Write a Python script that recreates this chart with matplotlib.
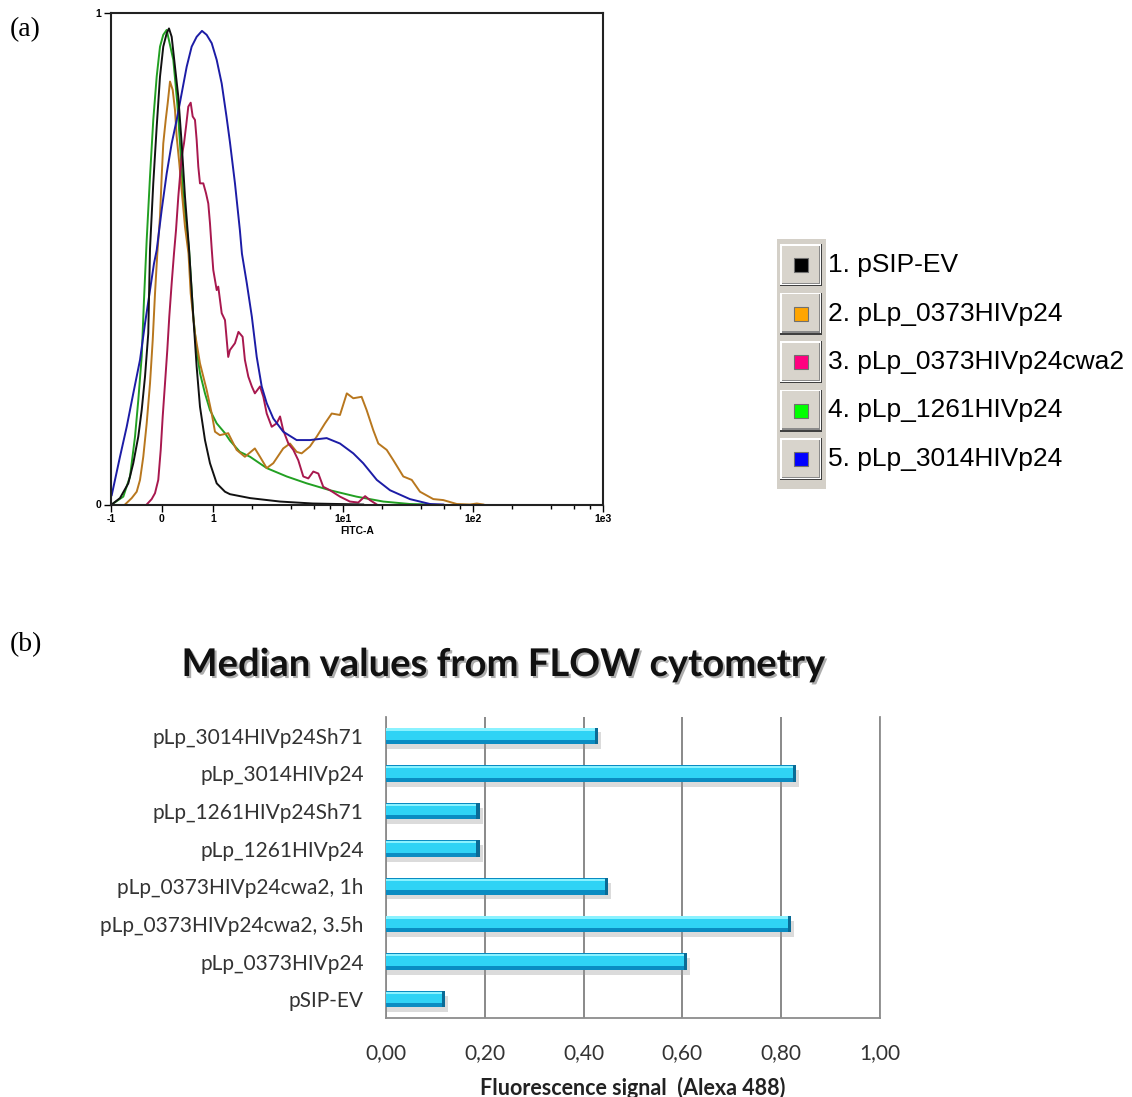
import numpy as np
import matplotlib
matplotlib.use("Agg")
import matplotlib.pyplot as plt
from matplotlib.patches import Rectangle
from matplotlib.ticker import FixedLocator, NullFormatter
import matplotlib.patheffects as pe

plt.rcParams['font.family'] = ['Liberation Sans', 'DejaVu Sans']

# ---- (a) flow cytometry histograms: FITC-A value vs normalised count ----
ev_x = [-0.986, -0.824, -0.661, -0.563, -0.465, -0.398, -0.333, -0.269, -0.235, -0.171,
        -0.104, -0.039, 0.025, 0.092, 0.137, 0.190, 0.255, 0.320, 0.386, 0.451, 0.53,
        0.614, 0.680, 0.745, 0.843, 0.941, 1.068, 1.237, 1.35, 1.93, 3.28, 5.88, 14.3]
ev_y = [0.0, 0.013, 0.043, 0.084, 0.138, 0.192, 0.260, 0.348, 0.52, 0.653,
        0.768, 0.870, 0.931, 0.958, 0.968, 0.951, 0.890, 0.829, 0.734, 0.626, 0.52,
        0.382, 0.280, 0.199, 0.131, 0.084, 0.043, 0.026, 0.021, 0.013, 0.006, 0.002, 0.0]

p373_x = [-0.725, -0.594, -0.496, -0.431, -0.367, -0.300, -0.235, -0.182, -0.137, -0.092,
          -0.039, -0.006, 0.025, 0.073, 0.112, 0.157, 0.210, 0.255, 0.288, 0.339, 0.386,
          0.451, 0.52, 0.563, 0.647, 0.745, 0.876, 0.975, 1.036, 1.13, 1.31, 1.35, 1.52,
          1.76, 2.10, 2.30, 2.59, 2.91, 3.47, 3.91, 4.40, 4.81, 5.57, 6.28, 7.27, 8.19,
          9.48, 10.7, 12.0, 13.9, 15.2, 17.1, 18.7, 21.7, 24.4, 29.1, 33.8, 39.1, 49.5,
          59.1, 75.0, 94.8, 107, 120]
p373_y = [0.0, 0.013, 0.026, 0.050, 0.097, 0.165, 0.246, 0.334, 0.429, 0.51,
          0.585, 0.667, 0.734, 0.782, 0.816, 0.860, 0.843, 0.802, 0.748, 0.694, 0.639,
          0.565, 0.51, 0.429, 0.348, 0.287, 0.233, 0.185, 0.148, 0.141, 0.145, 0.138, 0.111,
          0.097, 0.114, 0.097, 0.074, 0.084, 0.114, 0.124, 0.107, 0.104, 0.118, 0.138, 0.165, 0.185,
          0.182, 0.226, 0.216, 0.219, 0.192, 0.151, 0.124, 0.111, 0.090, 0.057, 0.050, 0.026, 0.011,
          0.009, 0.001, 0.0, 0.002, 0.0]

cwa2_x = [-0.300, -0.202, -0.137, -0.073, -0.025, 0.014, 0.059, 0.104, 0.143, 0.190,
          0.235, 0.275, 0.320, 0.353, 0.386, 0.431, 0.471, 0.516, 0.563, 0.602, 0.647,
          0.680, 0.712, 0.745, 0.810, 0.863, 0.908, 0.941, 0.975, 1.005, 1.068, 1.098,
          1.167, 1.237, 1.31, 1.35, 1.476, 1.57, 1.69, 1.76, 1.87, 1.99, 2.10, 2.30, 2.44,
          2.59, 2.83, 3.09, 3.28, 3.47, 3.80, 4.15, 4.53, 4.95, 5.41, 5.91, 6.46, 7.05,
          7.94, 9.48, 11.3, 13.1, 14.8, 16.1, 18.2]
cwa2_y = [0.0, 0.011, 0.023, 0.050, 0.111, 0.179, 0.246, 0.314, 0.382, 0.450,
          0.51, 0.558, 0.626, 0.667, 0.707, 0.734, 0.768, 0.809, 0.817, 0.789, 0.782,
          0.741, 0.687, 0.653, 0.653, 0.633, 0.612, 0.572, 0.52, 0.477, 0.436, 0.443,
          0.389, 0.375, 0.300, 0.314, 0.328, 0.351, 0.341, 0.294, 0.260, 0.240, 0.226, 0.240, 0.219,
          0.185, 0.158, 0.165, 0.179, 0.151, 0.124, 0.111, 0.090, 0.057, 0.053, 0.067, 0.063, 0.036,
          0.029, 0.016, 0.006, 0.004, 0.017, 0.009, 0.0]

p1261_x = [-0.986, -0.759, -0.627, -0.529, -0.465, -0.398, -0.353, -0.300, -0.235, -0.171,
           -0.104, -0.039, 0.025, 0.092, 0.222, 0.300, 0.353, 0.418, 0.53, 0.614, 0.680,
           0.745, 0.843, 0.941, 1.068, 1.237, 1.35, 1.61, 1.93, 2.59, 3.69, 5.26, 7.94,
           12.7, 20.4, 32.7, 46.7]
p1261_y = [0.0, 0.016, 0.057, 0.138, 0.212, 0.301, 0.416, 0.538, 0.667, 0.782,
           0.870, 0.931, 0.955, 0.965, 0.904, 0.816, 0.734, 0.626, 0.52, 0.382, 0.314,
           0.267, 0.226, 0.192, 0.165, 0.145, 0.13, 0.107, 0.097, 0.074, 0.057, 0.043, 0.029,
           0.016, 0.006, 0.001, 0.0]

p3014_x = [-0.986, -0.824, -0.692, -0.563, -0.431, -0.333, -0.235, -0.157, -0.104, -0.006,
           0.092, 0.190, 0.288, 0.386, 0.484, 0.582, 0.680, 0.784, 0.876, 0.975, 1.068,
           1.167, 1.27, 1.35, 1.476, 1.61, 1.67, 1.82, 1.99, 2.17, 2.37, 2.59, 2.91, 3.47,
           4.40, 5.57, 7.49, 9.48, 12.0, 14.3, 18.2, 23.0, 32.7, 46.7, 59.1]
p3014_y = [0.019, 0.097, 0.158, 0.226, 0.294, 0.368, 0.436, 0.490, 0.517, 0.599,
           0.673, 0.734, 0.782, 0.836, 0.890, 0.931, 0.951, 0.963, 0.955, 0.938, 0.904,
           0.856, 0.789, 0.737, 0.653, 0.558, 0.51, 0.450, 0.382, 0.300, 0.240, 0.206, 0.175, 0.148,
           0.131, 0.131, 0.135, 0.124, 0.104, 0.084, 0.050, 0.029, 0.011, 0.001, 0.0]

hist_series = [
    (p1261_x, p1261_y, '#22a022'),
    (p373_x, p373_y, '#b8771e'),
    (cwa2_x, cwa2_y, '#a8184e'),
    (p3014_x, p3014_y, '#1c1ca6'),
    (ev_x, ev_y, '#111111'),
]

legend_labels = ['1. pSIP-EV', '2. pLp_0373HIVp24', '3. pLp_0373HIVp24cwa2',
                 '4. pLp_1261HIVp24', '5. pLp_3014HIVp24']
legend_colors = ['#000000', '#ffa500', '#ff0080', '#00ff00', '#0000ff']

x_ticks = [-1, 0, 1, 10, 100, 1000]
x_tick_labels = ['-1', '0', '1', '1e1', '1e2', '1e3']
x_minor = [2, 4, 6, 8, 20, 40, 60, 80, 200, 400, 600, 800]

# ---- (b) median values ----
strains = ['pLp_3014HIVp24Sh71', 'pLp_3014HIVp24', 'pLp_1261HIVp24Sh71', 'pLp_1261HIVp24',
           'pLp_0373HIVp24cwa2, 1h', 'pLp_0373HIVp24cwa2, 3.5h', 'pLp_0373HIVp24', 'pSIP-EV']
medians = [0.43, 0.83, 0.19, 0.19, 0.45, 0.82, 0.61, 0.12]
signal_ticks = [0.0, 0.2, 0.4, 0.6, 0.8, 1.0]
signal_labels = ['0,00', '0,20', '0,40', '0,60', '0,80', '1,00']

W, H = 1132, 1097
fig = plt.figure(figsize=(W / 100, H / 100), dpi=100)

# histogram panel
ax = fig.add_axes([111 / W, 1 - 504.5 / H, 492 / W, 491.8 / H])
for xs, ys, c in hist_series:
    ax.plot(xs, ys, color=c, lw=1.4)
ax.set_xscale('symlog', linthresh=1, linscale=0.353)
ax.set_xlim(-1, 1000)
ax.set_ylim(0, 1)
ax.set_xticks(x_ticks)
ax.set_xticklabels(x_tick_labels)
ax.xaxis.set_minor_locator(FixedLocator(x_minor))
ax.xaxis.set_minor_formatter(NullFormatter())
ax.set_yticks([0, 1])
ax.set_yticklabels(['0', '1'])
ax.tick_params(axis='both', which='major', length=5, width=1, labelsize=7.5, pad=2)
ax.tick_params(axis='x', which='minor', length=3, width=1)
for lab in ax.get_xticklabels() + ax.get_yticklabels():
    lab.set_fontweight('bold')
for s in ax.spines.values():
    s.set_linewidth(1.5)
    s.set_color('#222222')
ax.set_xlabel('FITC-A', fontsize=7.5, fontweight='bold', labelpad=1)

# legend panel drawn in figure pixel coordinates
lax = fig.add_axes([0, 0, 1, 1])
lax.set_xlim(0, W)
lax.set_ylim(H, 0)
lax.axis('off')
lax.add_patch(Rectangle((777, 239), 49, 250, facecolor='#d4d0c8', edgecolor='none'))
for i, (lab, col) in enumerate(zip(legend_labels, legend_colors)):
    cy = 265 + 48.5 * i
    x0, y0, s = 780, cy - 21, 42
    lax.add_patch(Rectangle((x0, y0), s, s, facecolor='#404040', edgecolor='none'))
    lax.add_patch(Rectangle((x0, y0), s - 1.5, s - 1.5, facecolor='#ffffff', edgecolor='none'))
    lax.add_patch(Rectangle((x0 + 1.5, y0 + 1.5), s - 3.5, s - 3.5, facecolor='#8a8a8a', edgecolor='none'))
    lax.add_patch(Rectangle((x0 + 1.5, y0 + 1.5), s - 5, s - 5, facecolor='#d8d4cc', edgecolor='none'))
    lax.add_patch(Rectangle((x0 + 14, cy - 7), 14, 14, facecolor=col, edgecolor='#707070', lw=0.8))
    fig.text(828 / W, 1 - cy / H, lab, fontsize=19, ha='left', va='center', color='#000000')

fig.text(10 / W, 1 - 30 / H, '(a)', fontsize=20, family='Liberation Serif', va='center')
fig.text(10 / W, 1 - 645 / H, '(b)', fontsize=20, family='Liberation Serif', va='center')

# bar panel
bx = fig.add_axes([386 / W, 1 - 1018 / H, 494 / W, 301 / H])
pos = np.arange(len(strains))
vals = np.array(medians)
bh = 0.44
bx.barh(pos + 0.13, vals + 0.006, height=bh, color='#9a9a9a', alpha=0.35, zorder=2)
bx.barh(pos, vals, height=bh, color='#0a8cc2', zorder=3)
bx.barh(pos - 0.03, vals - 0.004, height=0.28, color='#2fd3f5', zorder=4)
bx.barh(pos - 0.17, vals - 0.004, height=0.06, color='#8af2ff', zorder=5)
bx.barh(pos, 0.007, left=vals - 0.007, height=bh, color='#0a6b96', zorder=6)
bx.set_ylim(len(strains) - 0.5, -0.5)
bx.set_xlim(0, 1.0)
bx.set_yticks(pos)
bx.set_yticklabels(strains)
bx.set_xticks(signal_ticks)
bx.set_xticklabels(signal_labels)
bx.grid(axis='x', color='#808080', lw=1.3)
bx.set_axisbelow(True)
bx.tick_params(axis='y', length=0, pad=16, labelsize=15, labelcolor='#333333')
bx.tick_params(axis='x', length=0, pad=18, labelsize=15, labelcolor='#333333')
for lab in bx.get_xticklabels() + bx.get_yticklabels():
    lab.set_family('Lato')
bx.spines['top'].set_visible(False)
for k in ['left', 'right', 'bottom']:
    bx.spines[k].set_color('#8c8c8c')
    bx.spines[k].set_linewidth(1.3)
bx.set_xlabel('Fluorescence signal  (Alexa 488)', family='Lato', fontsize=15.5,
              fontweight='bold', color='#222222', labelpad=10)

fig.text(504 / W, 1 - 665 / H, 'Median values from FLOW cytometry', family='Lato',
         fontsize=27.5, fontweight='bold', ha='center', va='center', color='#111111',
         path_effects=[pe.withSimplePatchShadow(offset=(1.5, -1.5), shadow_rgbFace='#777777', alpha=0.6)])

fig.savefig('out.png', dpi=100)
